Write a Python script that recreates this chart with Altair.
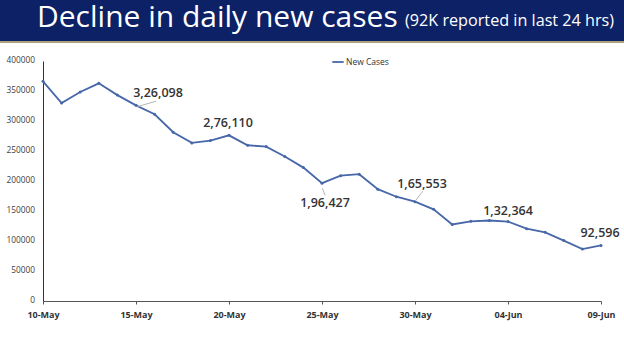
import altair as alt
import pandas as pd

dates = pd.date_range("2021-05-10", "2021-06-09", freq="D").strftime("%Y-%m-%d").tolist()
new_cases = [366161, 329942, 348421, 362727, 343144, 326098, 311170, 281386, 263533,
             267334, 276110, 259551, 257299, 240842, 222315, 196427, 208921, 211298,
             186364, 173790, 165553, 152734, 127510, 132788, 134154, 132364, 120529,
             114460, 100636, 86498, 92596]
series_name = "New Cases"

tick_dates = ["2021-05-10", "2021-05-15", "2021-05-20", "2021-05-25",
              "2021-05-30", "2021-06-04", "2021-06-09"]
y_ticks = [0, 50000, 100000, 150000, 200000, 250000, 300000, 350000, 400000]

ann_dates = ["2021-05-15", "2021-05-20", "2021-05-25", "2021-05-30", "2021-06-04", "2021-06-09"]
ann_labels = ["3,26,098", "2,76,110", "1,96,427", "1,65,553", "1,32,364", "92,596"]
ann_dx = [22, -1, 3, 7, 0, -1]
ann_dy = [-12, -12, 20, -18, -11, -12]

# leader lines: start (date, value) -> end (date, value)
lead_x1 = ["2021-05-15T02:00", "2021-05-25T00:30", "2021-05-30T00:30"]
lead_y1 = [324000, 188000, 167000]
lead_x2 = ["2021-05-16T02:00", "2021-05-25T04:00", "2021-05-30T10:00"]
lead_y2 = [333000, 176000, 183000]

title_main = "Decline in daily new cases"
title_sub = "(92K reported in last 24 hrs)"

df = pd.DataFrame({"date": dates, "value": new_cases, "series": series_name})
ann_df = pd.DataFrame({"date": ann_dates, "label": ann_labels})
lead_df = pd.DataFrame({"x1": lead_x1, "y1": lead_y1, "x2": lead_x2, "y2": lead_y2})
ytick_df = pd.DataFrame({"v": y_ticks, "lab": [str(v) for v in y_ticks]})
one = pd.DataFrame({"k": [0]})

FONT = "Open Sans"
BLUE = "#4767a8"

xscale = alt.Scale(type="utc", domain=[dates[0], dates[-1]], nice=False)
yscale = alt.Scale(domain=[0, 400000], nice=False)

x_axis = alt.Axis(
    values=[alt.DateTime(year=int(d[:4]), month=int(d[5:7]), date=int(d[8:]), utc=True) for d in tick_dates],
    labelExpr="utcFormat(datum.value, '%d-%b')",
    labelFont=FONT, labelFontSize=9, labelFontWeight="bold", labelColor="#333333",
    labelPadding=6, tickSize=3, tickColor="#555555", domainColor="#555555",
    grid=False, labelOverlap=False, labelFlush=False,
)
y_axis = alt.Axis(labels=False, ticks=False, domainColor="#333333", grid=False)

def xe(field="date"):
    return alt.X(f"{field}:T", scale=xscale, title=None, axis=x_axis)

def ye(field="value"):
    return alt.Y(f"{field}:Q", scale=yscale, title=None, axis=y_axis)

line = alt.Chart(df).mark_line(strokeWidth=1.8).encode(
    x=xe(), y=ye(),
    color=alt.Color("series:N", scale=alt.Scale(range=[BLUE]),
                    legend=alt.Legend(orient="none", legendX=288, legendY=-6, title=None,
                                      symbolType="stroke", symbolSize=130, symbolStrokeWidth=1.8,
                                      labelFont=FONT, labelFontSize=8.5, labelColor="#333333",
                                      labelOffset=1, padding=0)),
)
pts = alt.Chart(df).mark_point(filled=True, size=9, color=BLUE, opacity=1).encode(
    x=xe(), y=ye())

ylabels = alt.Chart(ytick_df).mark_text(font=FONT, fontSize=8.3, color="#404040",
                                        align="right", baseline="middle", clip=False).encode(
    x=alt.value(-8), y=ye("v"), text="lab:N")

leads = alt.Chart(lead_df).mark_rule(color="#b5b5b5", strokeWidth=1).encode(
    x=xe("x1"), y=ye("y1"), x2="x2:T", y2="y2:Q")

texts = []
for i, lab in enumerate(ann_labels):
    d = ann_df.iloc[[i]].merge(df, on="date")
    texts.append(
        alt.Chart(d).mark_text(dx=ann_dx[i], dy=ann_dy[i], font=FONT, fontSize=12.5,
                               color="#333333", fontWeight=600, baseline="middle", align="center")
        .encode(x=xe(), y=ye(), text="label:N")
    )

banner = alt.Chart(one).mark_rect(color="#0c2166", clip=False).encode(
    x=alt.value(-43), x2=alt.value(581), y=alt.value(-61), y2=alt.value(-20))
underline = alt.Chart(one).mark_rect(color="#a9a27a", clip=False).encode(
    x=alt.value(-43), x2=alt.value(581), y=alt.value(-20), y2=alt.value(-18))
t_main = alt.Chart(one).mark_text(text=title_main, font="Open Sans", fontSize=30, color="white",
                                  align="left", baseline="alphabetic").encode(
    x=alt.value(-6), y=alt.value(-34))
t_sub = alt.Chart(one).mark_text(text=title_sub, font="Open Sans", fontSize=16.2, color="white",
                                 align="left", baseline="alphabetic").encode(
    x=alt.value(362), y=alt.value(-35))

chart = alt.layer(line, pts, ylabels, leads, *texts, banner, underline, t_main, t_sub).properties(
    width=558, height=240,
    padding={"left": 43, "top": 61, "right": 23, "bottom": 50},
    autosize=alt.AutoSizeParams(type="none"),
    background="white",
).configure_view(stroke=None)

chart.save("out.html", embed_options={"renderer": "svg", "actions": False})
